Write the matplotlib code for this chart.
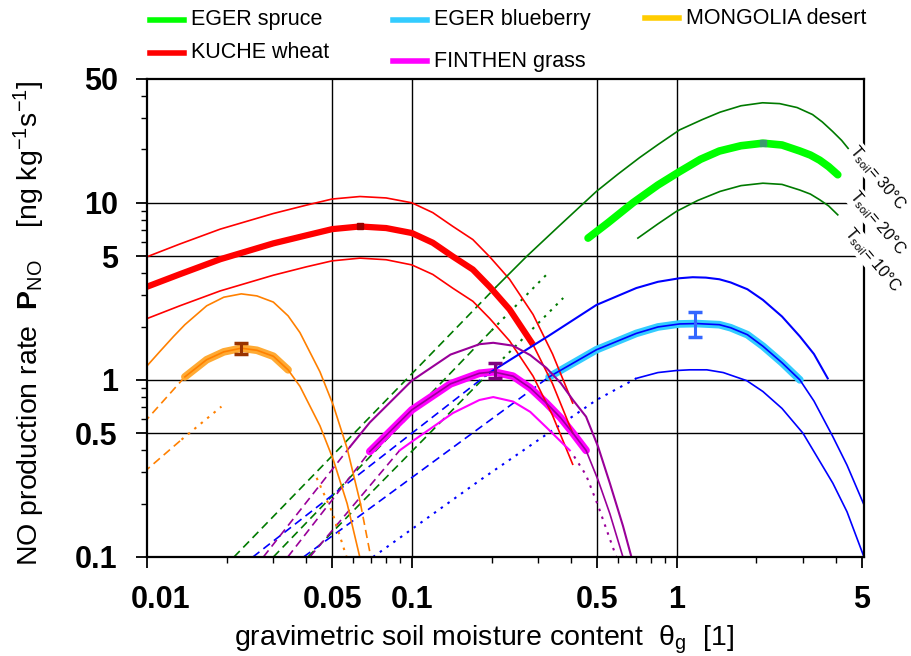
import matplotlib
matplotlib.use("Agg")
import matplotlib.pyplot as plt
import matplotlib.transforms as mtransforms
from matplotlib.lines import Line2D
from matplotlib.ticker import FixedLocator, NullFormatter

plt.rcParams['font.family'] = ['Liberation Sans', 'DejaVu Sans']
plt.rcParams['mathtext.fontset'] = 'custom'
plt.rcParams['mathtext.rm'] = 'Liberation Sans'
plt.rcParams['mathtext.bf'] = 'Liberation Sans:bold'
plt.rcParams['mathtext.it'] = 'Liberation Sans:italic'

# ---- KUCHE wheat (red), T = 30 / 20 / 10 degC
red_x = [0.0097, 0.0133, 0.0189, 0.030, 0.04, 0.05, 0.0637, 0.080, 0.1, 0.120, 0.143,
         0.170, 0.197, 0.234, 0.287, 0.34, 0.405]
red_30 = [4.87, 5.85, 7.1, 8.7, 9.7, 10.5, 10.85, 10.65, 10.0, 8.8, 7.35,
          6.2, 4.95, 3.7, 2.34, 1.4, 0.74]
red_20 = [3.3, 3.95, 4.8, 5.9, 6.55, 7.1, 7.35, 7.2, 6.75, 5.95, 4.97,
          4.2, 3.35, 2.5, 1.58, 0.95, 0.5]
red_10 = [2.18, 2.62, 3.18, 3.9, 4.35, 4.7, 4.87, 4.77, 4.46, 3.94, 3.29,
          2.78, 2.22, 1.66, 1.05, 0.63, 0.334]
red_peak = (0.0637, 7.35)

# ---- EGER spruce (green)
g30_x = [0.209, 0.271, 0.36, 0.498, 0.6, 0.725, 0.85, 1.026, 1.25, 1.46, 1.75, 2.11,
         2.45, 2.85, 3.26, 3.55, 3.88, 4.2, 4.49]
g30_y = [3.37, 4.97, 7.4, 11.6, 14.5, 18.0, 21.3, 25.8, 29.5, 32.5, 35.3, 36.7,
         36.3, 34.5, 31.5, 28.6, 25.3, 22.5, 19.9]
g20_x = [0.463, 0.55, 0.684, 0.85, 1.026, 1.23, 1.45, 1.75, 2.117, 2.5, 2.92, 3.2,
         3.47, 3.75, 4.06]
g20_y = [6.32, 7.7, 10.0, 12.6, 15.0, 17.6, 19.6, 21.0, 21.7, 21.2, 19.6, 18.6,
         17.4, 16.0, 14.4]
g10_x = [0.714, 0.85, 0.997, 1.2, 1.46, 1.75, 2.117, 2.5, 2.92, 3.2, 3.47, 3.75, 4.06]
g10_y = [6.32, 7.6, 8.93, 10.3, 11.6, 12.5, 12.9, 12.7, 11.8, 11.2, 10.4, 9.6, 8.55]
g30_ext_x, g30_ext_y = [0.0213, 0.209], [0.1, 3.37]
g20_dash_x, g20_dash_y = [0.030, 0.20], [0.1, 1.9]
g20_dot_x, g20_dot_y = [0.20, 0.322], [1.9, 3.92]
g10_dash_x, g10_dash_y = [0.0405, 0.21], [0.1, 1.22]
g10_dot_x, g10_dot_y = [0.21, 0.373], [1.22, 2.9]
green_peak = (2.117, 21.7)

# ---- EGER blueberry (blue)
b30_x = [0.197, 0.255, 0.33, 0.498, 0.704, 0.85, 1.026, 1.15, 1.29, 1.45, 1.6, 1.85,
         2.117, 2.5, 2.92, 3.3, 3.72]
b30_y = [1.1, 1.4, 1.78, 2.65, 3.3, 3.58, 3.75, 3.8, 3.78, 3.7, 3.55, 3.25,
         2.83, 2.28, 1.76, 1.40, 1.02]
b20_x = [0.33, 0.498, 0.704, 0.85, 1.026, 1.19, 1.45, 1.6, 1.85, 2.117, 2.5, 2.92,
         3.3, 3.89, 4.4, 5.1]
b20_y = [1.04, 1.48, 1.83, 1.99, 2.07, 2.08, 2.05, 1.97, 1.8, 1.55, 1.25, 1.0,
         0.76, 0.478, 0.33, 0.197]
b10_x = [0.704, 0.85, 1.0, 1.12, 1.3, 1.5, 1.84, 2.117, 2.5, 3.0, 3.89, 4.4, 5.1]
b10_y = [1.02, 1.1, 1.13, 1.14, 1.14, 1.1, 0.99, 0.86, 0.69, 0.5, 0.261, 0.18, 0.1]
b30_ext_x, b30_ext_y = [0.0251, 0.197], [0.1, 1.1]
b20_ext_x, b20_ext_y = [0.039, 0.33], [0.1, 1.04]
b10_ext_x = [0.0714, 0.18, 0.498, 0.704]
b10_ext_y = [0.1, 0.27, 0.77, 1.02]
blue_err = (1.17, 2.06, 1.74, 2.43)

# ---- FINTHEN grass (magenta / purple)
f30_x = [0.0585, 0.0694, 0.1, 0.14, 0.18, 0.203, 0.241, 0.28, 0.322, 0.365, 0.406,
         0.455, 0.505, 0.56, 0.627, 0.675]
f30_y = [0.42, 0.575, 0.99, 1.39, 1.59, 1.62, 1.56, 1.38, 1.17, 0.96, 0.77,
         0.62, 0.42, 0.26, 0.15, 0.1]
f20_x = [0.0694, 0.1, 0.14, 0.18, 0.203, 0.241, 0.28, 0.322, 0.365, 0.406, 0.455,
         0.505, 0.56, 0.627]
f20_y = [0.394, 0.677, 0.95, 1.09, 1.11, 1.05, 0.90, 0.74, 0.61, 0.50, 0.40,
         0.272, 0.175, 0.1]
f10_x = [0.090, 0.1, 0.143, 0.18, 0.203, 0.241, 0.28, 0.322, 0.395]
f10_y = [0.40, 0.448, 0.65, 0.77, 0.80, 0.755, 0.66, 0.54, 0.40]
f10_dot_x = [0.41, 0.455, 0.505, 0.56, 0.592]
f10_dot_y = [0.37, 0.29, 0.195, 0.126, 0.1]
f30_ext_x, f30_ext_y = [0.0275, 0.0585], [0.1, 0.42]
f20_ext_x, f20_ext_y = [0.034, 0.0694], [0.1, 0.394]
f10_ext_x, f10_ext_y = [0.0412, 0.090], [0.1, 0.40]
purple_err = (0.2056, 1.12, 1.02, 1.24)

# ---- MONGOLIA desert (orange)
o30_x = [0.0097, 0.0112, 0.0126, 0.0139, 0.0168, 0.0195, 0.0227, 0.026, 0.030, 0.0341,
         0.0378, 0.045, 0.0505, 0.057, 0.064]
o30_y = [1.14, 1.45, 1.76, 2.05, 2.62, 2.93, 3.06, 2.98, 2.75, 2.3,
         1.85, 1.11, 0.72, 0.41, 0.2]
o30_dash_x, o30_dash_y = [0.064, 0.070], [0.2, 0.1]
o20_x = [0.0139, 0.0168, 0.0195, 0.0227, 0.026, 0.030, 0.0341, 0.0378, 0.045, 0.0505,
         0.057, 0.0636]
o20_y = [1.04, 1.30, 1.44, 1.51, 1.47, 1.36, 1.14, 0.92, 0.55, 0.355, 0.2, 0.1]
o20_ext_x, o20_ext_y = [0.0097, 0.0139], [0.57, 1.04]
o10_dash_x, o10_dash_y = [0.0097, 0.0135], [0.30, 0.46]
o10_dot_x, o10_dot_y = [0.0135, 0.0191], [0.46, 0.707]
o10_tail_x, o10_tail_y = [0.0437, 0.050, 0.0567], [0.28, 0.18, 0.1]
orange_err = (0.0227, 1.5, 1.40, 1.61)

legend_names = ['EGER spruce', 'EGER blueberry', 'MONGOLIA desert', 'KUCHE wheat', 'FINTHEN grass']
legend_colors = ['#00ff00', '#33ccff', '#ffcc00', '#ff0000', '#ff00ff']

x_ticks = [0.01, 0.05, 0.1, 0.5, 1, 5]
x_labels = ['0.01', '0.05', '0.1', '0.5', '1', '5']
y_ticks = [0.1, 0.5, 1, 5, 10, 50]
y_labels = ['0.1', '0.5', '1', '5', '10', '50']

RED, DGREEN, LIME = '#ff0000', '#007a00', '#00ff00'
BLUE, CYAN = '#0000ff', '#33ccff'
PURPLE, MAGENTA = '#990099', '#ff00ff'
ORANGE, LORANGE = '#ff8000', '#ffaa33'
DASH = (0, (5, 3))
DOT = (0, (1.2, 2.8))
THIN = 1.2

fig = plt.figure(figsize=(9.11, 6.56), dpi=100)
ax = fig.add_axes([147 / 911, 99 / 656, 717 / 911, 478 / 656])
ax.set_xscale('log')
ax.set_yscale('log')
ax.set_xlim(0.01, 5.1)
ax.set_ylim(0.1, 50)

for v in [0.05, 0.1, 0.5, 1]:
    ax.axvline(v, color='black', lw=1.0, zorder=1)
for v in [0.5, 1, 5, 10]:
    ax.axhline(v, color='black', lw=1.0, zorder=1)

# extensions (dashed / dotted)
ax.plot(g30_ext_x, g30_ext_y, color=DGREEN, lw=THIN, ls=DASH)
ax.plot(g20_dash_x, g20_dash_y, color=DGREEN, lw=THIN, ls=DASH)
ax.plot(g20_dot_x, g20_dot_y, color=DGREEN, lw=THIN + 0.3, ls=DOT)
ax.plot(g10_dash_x, g10_dash_y, color=DGREEN, lw=THIN, ls=DASH)
ax.plot(g10_dot_x, g10_dot_y, color=DGREEN, lw=THIN + 0.3, ls=DOT)
ax.plot(b30_ext_x, b30_ext_y, color=BLUE, lw=THIN, ls=DASH)
ax.plot(b20_ext_x, b20_ext_y, color=BLUE, lw=THIN, ls=DASH)
ax.plot(b10_ext_x, b10_ext_y, color=BLUE, lw=THIN + 0.3, ls=DOT)
ax.plot(f30_ext_x, f30_ext_y, color=PURPLE, lw=THIN, ls=DASH)
ax.plot(f20_ext_x, f20_ext_y, color=PURPLE, lw=THIN, ls=DASH)
ax.plot(f10_ext_x, f10_ext_y, color=PURPLE, lw=THIN, ls=DASH)
ax.plot(f10_dot_x, f10_dot_y, color=PURPLE, lw=THIN + 0.3, ls=DOT)
ax.plot(o20_ext_x, o20_ext_y, color=ORANGE, lw=THIN, ls=DASH)
ax.plot(o10_dash_x, o10_dash_y, color=ORANGE, lw=THIN, ls=DASH)
ax.plot(o10_dot_x, o10_dot_y, color=ORANGE, lw=THIN + 0.3, ls=DOT)
ax.plot(o10_tail_x, o10_tail_y, color=ORANGE, lw=THIN + 0.3, ls=DOT)
ax.plot(o30_dash_x, o30_dash_y, color=ORANGE, lw=THIN, ls=DASH)

# thick "measured range" curves
ax.plot(red_x[:15], red_20[:15], color=RED, lw=4.5, solid_capstyle='butt')
ax.plot(g20_x, g20_y, color=LIME, lw=5.5, solid_capstyle='round')
ax.plot(b20_x[:12], b20_y[:12], color=CYAN, lw=5.5, solid_capstyle='round')
ax.plot(f20_x[:11], f20_y[:11], color=MAGENTA, lw=5.5, solid_capstyle='round')
ax.plot(o20_x[:7], o20_y[:7], color=LORANGE, lw=5.5, solid_capstyle='round')

# thin model curves
ax.plot(red_x, red_30, color=RED, lw=THIN)
ax.plot(red_x, red_20, color=RED, lw=THIN)
ax.plot(red_x, red_10, color=RED, lw=THIN)
ax.plot(g30_x, g30_y, color=DGREEN, lw=THIN)
ax.plot(g10_x, g10_y, color=DGREEN, lw=THIN)
ax.plot(b30_x, b30_y, color=BLUE, lw=THIN + 0.3)
ax.plot(b20_x, b20_y, color=BLUE, lw=THIN)
ax.plot(b10_x, b10_y, color=BLUE, lw=THIN)
ax.plot(f30_x, f30_y, color=PURPLE, lw=THIN + 0.3)
ax.plot(f20_x, f20_y, color=PURPLE, lw=THIN)
ax.plot(f10_x, f10_y, color=MAGENTA, lw=THIN + 0.3)
ax.plot(o30_x, o30_y, color=ORANGE, lw=THIN)
ax.plot(o20_x, o20_y, color=ORANGE, lw=THIN)

# peak markers and error bars
ax.plot(*red_peak, marker='s', ms=5, color='#990000', zorder=5)
ax.plot(*green_peak, marker='s', ms=5, color='#3c9a6e', zorder=5)
for (ex, ey, lo, hi), col in [(blue_err, '#3366ff'), (purple_err, '#800080'),
                              (orange_err, '#993300')]:
    ax.errorbar([ex], [ey], yerr=[[ey - lo], [hi - ey]], fmt='none', ecolor=col,
                elinewidth=2.2, capsize=5, capthick=2.5, zorder=6)

# axes styling
for s in ax.spines.values():
    s.set_linewidth(1.6)
ax.xaxis.set_major_locator(FixedLocator(x_ticks))
ax.set_xticklabels(x_labels, fontsize=22, fontweight='bold')
ax.yaxis.set_major_locator(FixedLocator(y_ticks))
ax.set_yticklabels(y_labels, fontsize=22, fontweight='bold')
ax.xaxis.set_minor_locator(FixedLocator([0.02, 0.03, 0.04, 0.06, 0.07, 0.08, 0.09,
                                         0.2, 0.3, 0.4, 0.6, 0.7, 0.8, 0.9, 2, 3, 4]))
ax.yaxis.set_minor_locator(FixedLocator([0.2, 0.3, 0.4, 0.6, 0.7, 0.8, 0.9,
                                         2, 3, 4, 6, 7, 8, 9, 20, 30, 40]))
ax.xaxis.set_minor_formatter(NullFormatter())
ax.yaxis.set_minor_formatter(NullFormatter())
ax.tick_params(which='major', direction='out', length=8, width=1.3)
ax.tick_params(axis='x', which='major', pad=12)
ax.tick_params(axis='y', which='major', pad=13)
ax.tick_params(which='minor', direction='out', length=4, width=1.0)
# first x label sits a little to the right of its tick, as in the original
shift = mtransforms.ScaledTranslation(0.14, 0, fig.dpi_scale_trans)
first = ax.get_xticklabels()[0]
first.set_transform(first.get_transform() + shift)

ax.set_xlabel(r'gravimetric soil moisture content  θ$_{\mathregular{g}}$  [1]', fontsize=20.5)
ax.xaxis.set_label_coords(0.47, -0.14)
ax.set_ylabel(r'NO production rate  $\mathbf{P}_{\mathregular{NO}}$    '
              r'[ng kg$^{\mathregular{-1}}$s$^{\mathregular{-1}}$]', fontsize=20.5)
ax.yaxis.set_label_coords(-0.14, 0.49)

# temperature labels on the right
for tx, ty, lab in [(4.62, 20.5, '30°C'), (4.6, 11.4, '20°C'), (4.42, 7.03, '10°C')]:
    ax.text(tx, ty, r'$\mathregular{T_{soil}}$= ' + lab, rotation=-50, rotation_mode='anchor',
            ha='left', va='center', fontsize=11.5, zorder=10,
            bbox=dict(fc='white', ec='none', pad=1.0))

# legend drawn by hand in figure coordinates
leg_pos = [(150, 20), (393, 20), (645, 18), (150, 53), (393, 61)]
for (px, py), name, col in zip(leg_pos, legend_names, legend_colors):
    yf = 1 - py / 656
    fig.add_artist(Line2D([px / 911, (px + 34) / 911], [yf, yf], color=col, lw=4))
    fig.text((px + 41) / 911, yf, name, fontsize=15.5, va='center', ha='left')

fig.savefig('out.png', dpi=100)
